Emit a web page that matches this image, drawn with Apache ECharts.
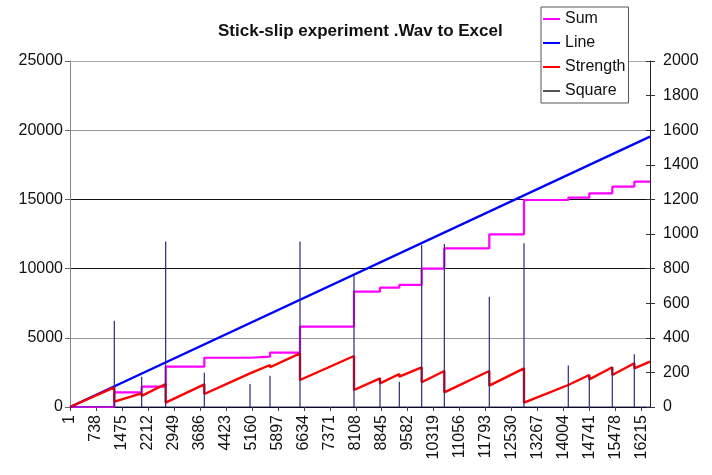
<!DOCTYPE html>
<html><head><meta charset="utf-8">
<script src="https://cdn.jsdelivr.net/npm/echarts@6/dist/echarts.min.js"></script>
<style>html,body{margin:0;padding:0;background:#fff}#c{width:712px;height:475px}</style>
</head><body><div id="c"></div>
<script>
// x-axis tick labels (sample numbers, every 737 samples)
const tickLabels = ['1','738','1475','2212','2949','3686','4423','5160','5897','6634','7371','8108','8845','9582','10319','11056','11793','12530','13267','14004','14741','15478','16215'];
const tickStep = 737;
const xEnd = 16455;            // last sample (offset from sample 1)

// slip events (sample offset)
const slipIdx        = [1257, 2033, 2714, 3811, 5107, 5674, 6525, 8057, 8795, 9343, 9977, 10620, 11896, 12880, 14137, 14733, 15386, 16010];
// Square spikes (right axis)
const squareVal      = [ 499,  175,  956,  198,  133,  181,  956,  763,  166,  146,  936,   942,   638,   946,   240,   180,   230,   305];
// Sum level after each slip (left axis)
const sumLevel       = [1062, 1467, 2912, 3560, 3634, 3924, 5803, 8331, 8620, 8820, 9994, 11467, 12478, 14957, 15123, 15441, 15918, 16280];
// Strength just before / just after each slip (left axis)
const strengthBefore = [1423,  990, 1662, 1640, 2435, 3035, 3880, 3685, 2074, 2384, 2869,  2601,  2601,  2796,  1590,  2312,  2869,  3157];
const strengthAfter  = [ 383,  800,  311,  939, 2330, 2870, 1951, 1228, 1712, 2190, 1785,  1062,  1540,   311,  1540,  2000,  2312,  2796];
const strengthEnd = 3273;
const lineEnd = 19530;

const FONT = 'Liberation Sans, Arial, sans-serif';

const sumData = [[0, 0]];
let prev = 0;
slipIdx.forEach((s, i) => { sumData.push([s, prev], [s, sumLevel[i]]); prev = sumLevel[i]; });
sumData.push([xEnd, prev]);

const strengthData = [[0, 0]];
slipIdx.forEach((s, i) => { strengthData.push([s, strengthBefore[i]], [s, strengthAfter[i]]); });
strengthData.push([xEnd, strengthEnd]);

const squareData = [[0, 0]];
slipIdx.forEach((s, i) => { squareData.push([s, 0], [s, squareVal[i]], [s, 0]); });
squareData.push([xEnd, 0]);

const lineData = [[0, 0], [xEnd, lineEnd]];

const chart = echarts.init(document.getElementById('c'), null, {renderer: 'canvas'});
chart.setOption({
  animation: false,
  backgroundColor: '#fff',
  title: {
    text: 'Stick-slip experiment .Wav to Excel',
    left: 213, top: 18,
    textStyle: {fontFamily: FONT, fontSize: 17, fontWeight: 'bold', color: '#111'}
  },
  legend: {
    orient: 'vertical', left: 541, top: 7,
    padding: [4, 3, 4, 2], itemGap: 8,
    itemWidth: 17, itemHeight: 2, icon: 'rect',
    borderColor: '#555', borderWidth: 1, backgroundColor: '#fff',
    textStyle: {fontFamily: FONT, fontSize: 16, lineHeight: 16, color: '#111'},
    data: ['Sum', 'Line', 'Strength', 'Square']
  },
  grid: {left: 70, right: 62, top: 61, bottom: 68, containLabel: false, outerBoundsMode: 'none'},
  xAxis: {
    type: 'value', min: 0, max: xEnd, interval: tickStep,
    axisLine: {show: true, lineStyle: {color: '#000', width: 1}},
    axisTick: {show: true, length: 4, lineStyle: {color: '#444'}},
    splitLine: {show: false},
    axisLabel: {
      rotate: 90, margin: 8, fontFamily: FONT, fontSize: 16, color: '#111',
      showMaxLabel: false,
      formatter: v => {
        const k = Math.round(v / tickStep);
        return (Math.abs(k * tickStep - v) < 1e-6 && k < tickLabels.length) ? tickLabels[k] : '';
      }
    }
  },
  yAxis: [
    {
      type: 'value', position: 'left', min: 0, max: 25000, interval: 5000,
      axisLine: {show: true, lineStyle: {color: '#888'}},
      axisTick: {show: true, length: 5, lineStyle: {color: '#666'}},
      axisLabel: {margin: 7, fontFamily: FONT, fontSize: 16, color: '#111', formatter: v => String(v)},
      splitLine: {show: true, lineStyle: {color: ['#999', '#999', '#111', '#111', '#999', '#aaa'], width: 1}}
    },
    {
      type: 'value', position: 'right', min: 0, max: 2000, interval: 200,
      axisLine: {show: true, lineStyle: {color: '#222'}},
      axisTick: {show: true, length: 5, lineStyle: {color: '#333'}},
      axisLabel: {margin: 13, fontFamily: FONT, fontSize: 16, color: '#111', formatter: v => String(v)},
      splitLine: {show: false}
    },
    {
      type: 'value', position: 'right', offset: 0, min: 0, max: 2000, interval: 200,
      axisLine: {show: false},
      axisTick: {show: true, inside: true, length: 4, lineStyle: {color: '#333'}},
      axisLabel: {show: false},
      splitLine: {show: false}
    }
  ],
  series: [
    {name: 'Sum', type: 'line', yAxisIndex: 0, data: sumData, symbol: 'none',
     lineStyle: {color: '#ff00ff', width: 2.2}, itemStyle: {color: '#ff00ff'}, z: 2},
    {name: 'Line', type: 'line', yAxisIndex: 0, data: lineData, symbol: 'none',
     lineStyle: {color: '#0000ff', width: 2.4}, itemStyle: {color: '#0000ff'}, z: 3},
    {name: 'Strength', type: 'line', yAxisIndex: 0, data: strengthData, symbol: 'none',
     lineStyle: {color: '#ff0000', width: 2.4}, itemStyle: {color: '#ff0000'}, z: 4},
    {name: 'Square', type: 'line', yAxisIndex: 1, data: squareData, symbol: 'none',
     lineStyle: {color: '#2b2b7a', width: 1.2}, itemStyle: {color: '#555'}, z: 5}
  ]
});
</script></body></html>
